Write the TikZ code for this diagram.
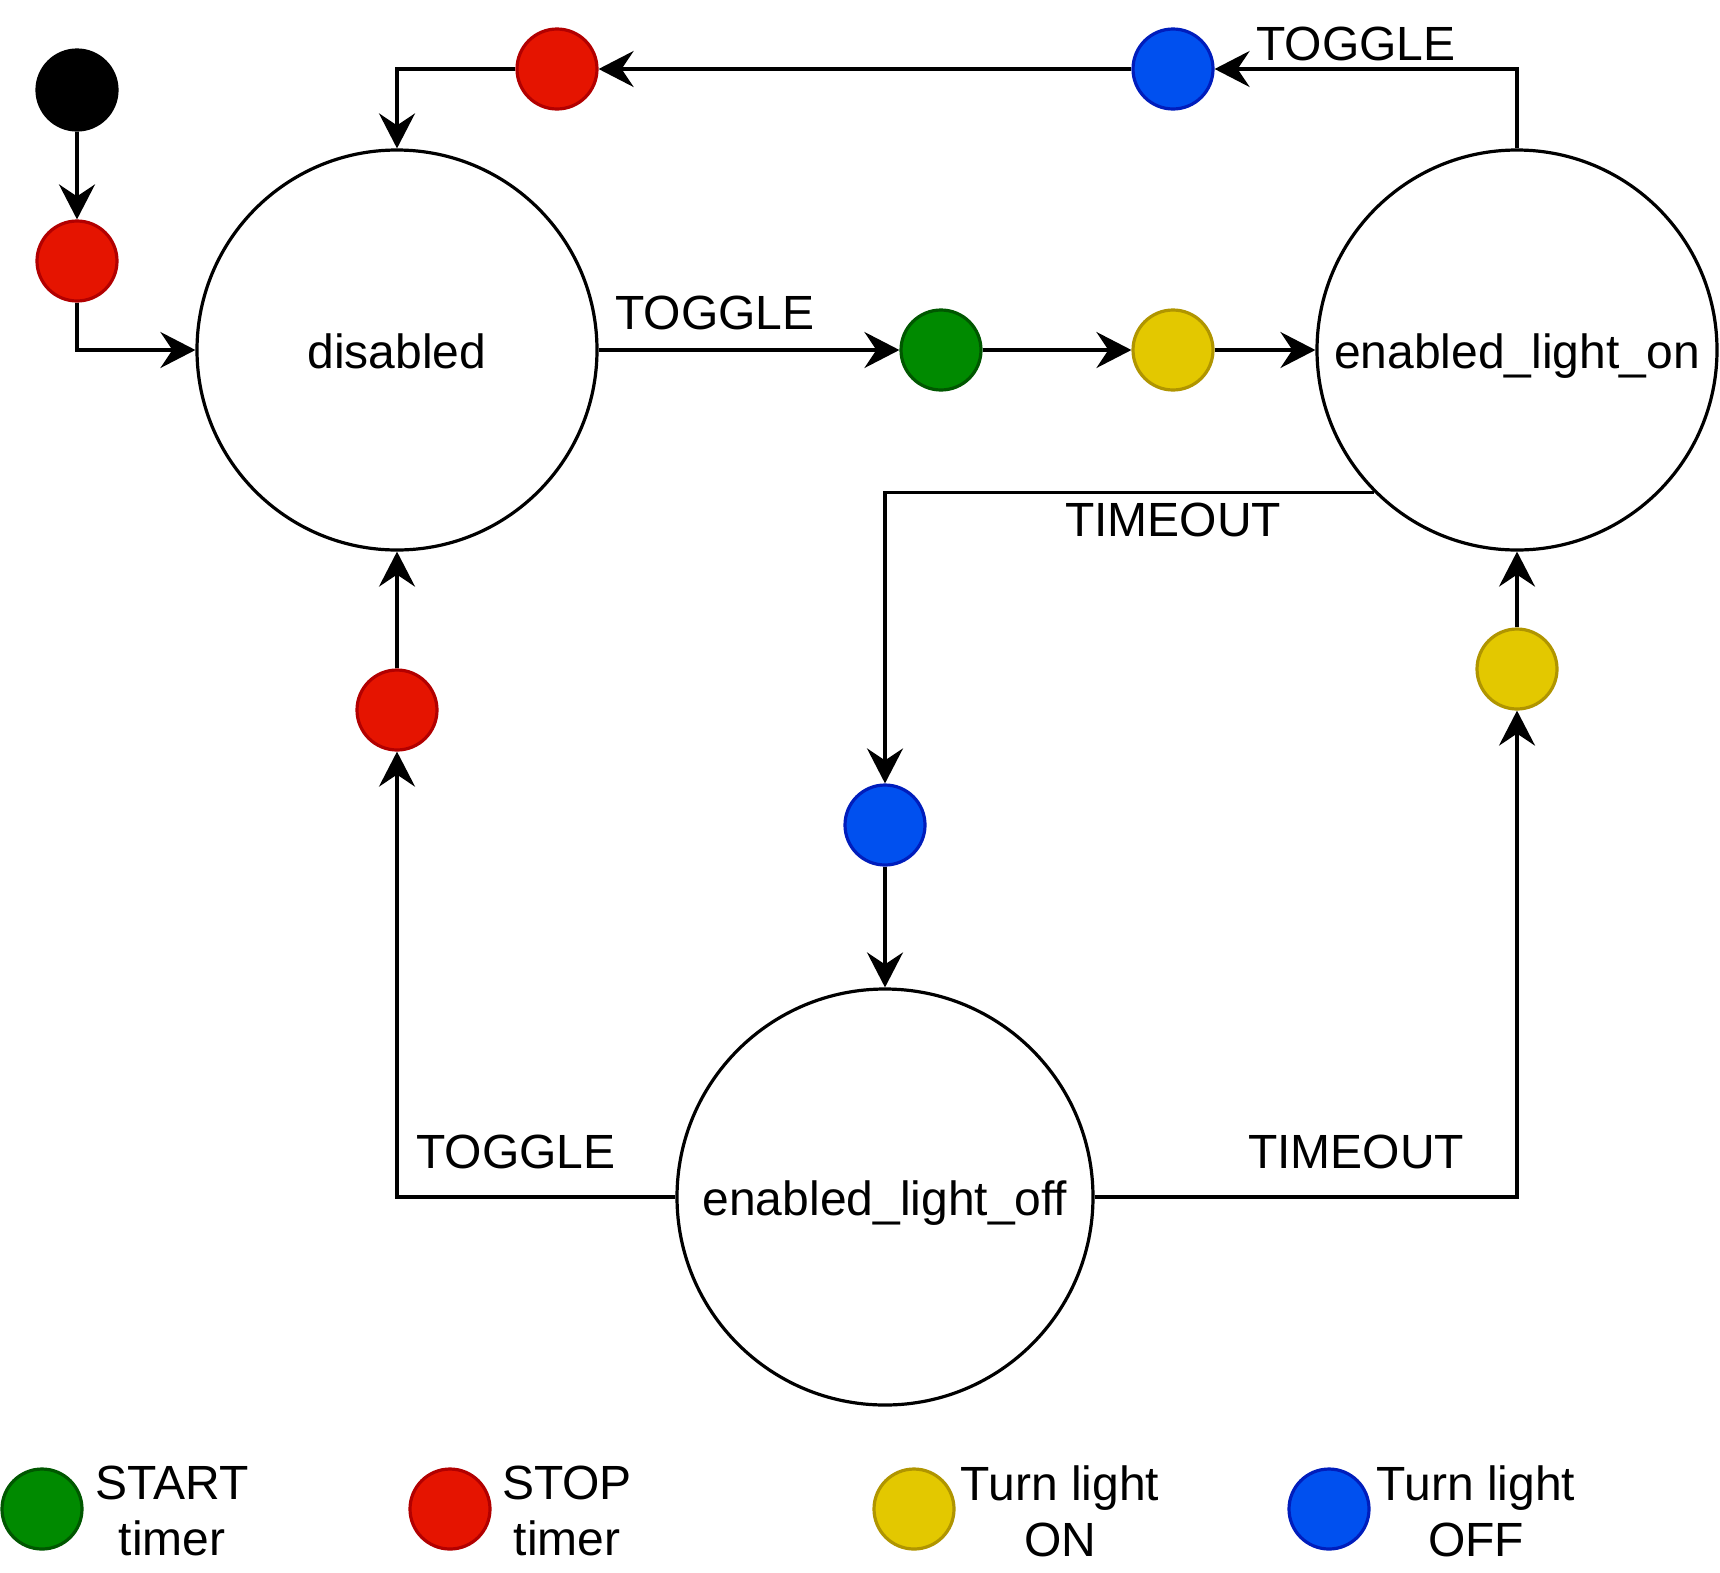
\documentclass[tikz,border=0pt]{standalone}
\usepackage{fontspec}
\setmainfont{Liberation Sans}
\usetikzlibrary{arrows.meta}

\definecolor{startfill}{HTML}{008A00}
\definecolor{startline}{HTML}{005700}
\definecolor{stopfill}{HTML}{E51400}
\definecolor{stopline}{HTML}{B20000}
\definecolor{onfill}{HTML}{E3C800}
\definecolor{online}{HTML}{B09500}
\definecolor{offfill}{HTML}{0050EF}
\definecolor{offline}{HTML}{001DBC}

\begin{document}
\begin{tikzpicture}[x=1pt, y=-1pt, line width=3.2pt,
        font=\fontsize{48}{56}\selectfont,
        statenode/.style={draw=black, fill=white, circle, inner sep=0pt, minimum size=400pt,
            text height=36pt, text depth=0pt},
        actdot/.style={circle, inner sep=0pt, minimum size=80pt},
        startdot/.style={actdot, fill=startfill, draw=startline},
        stopdot/.style={actdot, fill=stopfill, draw=stopline},
        ondot/.style={actdot, fill=onfill, draw=online},
        offdot/.style={actdot, fill=offfill, draw=offline},
        conn/.style={draw=black, -{Stealth[length=35pt, width=36pt, inset=12pt]}}]
        \useasboundingbox (0, 0) rectangle (1720, 1572);

        % states
        \node[statenode] (disabled) at (397, 350) {disabled};
        \node[statenode] (lighton) at (1517, 350) {enabled\_light\_on};
        \node[statenode, minimum size=416pt] (lightoff) at (885, 1197) {enabled\_light\_off};

        % actions
        \node[actdot, fill=black, draw=black] (init) at (77, 90) {};
        \node[stopdot] (stopinit) at (77, 261) {};
        \node[stopdot] (stoptop) at (557, 69) {};
        \node[offdot] (offtop) at (1173, 69) {};
        \node[startdot] (startmid) at (941, 350) {};
        \node[ondot] (onmid) at (1173, 350) {};
        \node[offdot] (offmid) at (885, 825) {};
        \node[stopdot] (stopleft) at (397, 710) {};
        \node[ondot] (onright) at (1517, 669) {};

        % transitions
        \draw[conn] (init) -- (stopinit);
        \draw[conn] (stopinit) |- (disabled);
        \draw[conn] (disabled) -- (startmid);
        \draw[conn] (startmid) -- (onmid);
        \draw[conn] (onmid) -- (lighton);
        \draw[conn] (lighton.north) |- (offtop);
        \draw[conn] (offtop) -- (stoptop);
        \draw[conn] (stoptop) -| (disabled);
        \draw[conn] (lighton.225) -| (offmid);
        \draw[conn] (offmid) -- (lightoff);
        \draw[conn] (lightoff) -| (stopleft);
        \draw[conn] (stopleft) -- (disabled);
        \draw[conn] (lightoff) -| (onright);
        \draw[conn] (onright) -- (lighton);

        % labels
        \node (toggletop) at (1356, 44) {TOGGLE};
        \node (togglemid) at (715, 313) {TOGGLE};
        \node (timeoutmid) at (1173, 520) {TIMEOUT};
        \node (toggleleft) at (516, 1152) {TOGGLE};
        \node (timeoutright) at (1356, 1152) {TIMEOUT};

        % legend
        \node[startdot] (keystart) at (42, 1509) {};
        \node[align=center] (keystarttext) at (172, 1511) {START\\timer};
        \node[stopdot] (keystop) at (450, 1509) {};
        \node[align=center] (keystoptext) at (567, 1511) {STOP\\timer};
        \node[ondot] (keyon) at (914, 1509) {};
        \node[align=center] (keyontext) at (1060, 1511) {Turn light\\ON};
        \node[offdot] (keyoff) at (1329, 1509) {};
        \node[align=center] (keyofftext) at (1476, 1511) {Turn light\\OFF};
    \end{tikzpicture}
\end{document}
